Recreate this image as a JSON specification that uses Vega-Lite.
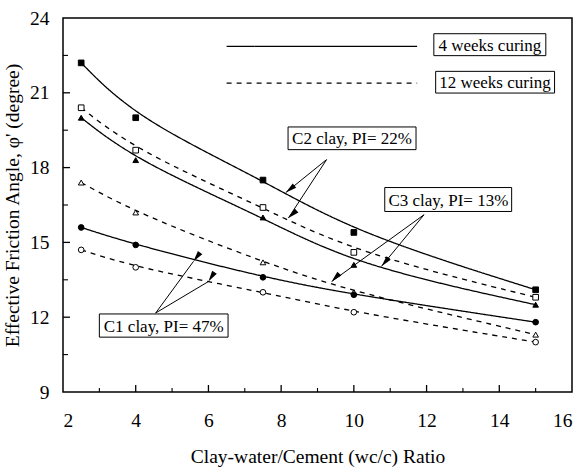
{
  "$schema": "https://vega.github.io/schema/vega-lite/v6.json",
  "width": 509,
  "height": 374,
  "autosize": "none",
  "padding": {"left": 63, "top": 18, "right": 9, "bottom": 76},
  "background": "white",
  "config": {
    "view": {"stroke": "black", "strokeWidth": 1.5},
    "axis": {
      "labelFont": "Liberation Serif", "labelFontSize": 19.5, "labelColor": "black",
      "titleFont": "Liberation Serif", "titleFontSize": 19.5, "titleFontWeight": "normal", "titleColor": "black",
      "domain": false, "ticks": false, "grid": false
    }
  },
  "datasets": {
    "series": [
      {"clay": "C2", "curing": "4 weeks", "x": 2.5, "y": 22.2},
      {"clay": "C2", "curing": "4 weeks", "x": 4, "y": 20.0},
      {"clay": "C2", "curing": "4 weeks", "x": 7.5, "y": 17.5},
      {"clay": "C2", "curing": "4 weeks", "x": 10, "y": 15.4},
      {"clay": "C2", "curing": "4 weeks", "x": 15, "y": 13.1},
      {"clay": "C2", "curing": "12 weeks", "x": 2.5, "y": 20.4},
      {"clay": "C2", "curing": "12 weeks", "x": 4, "y": 18.7},
      {"clay": "C2", "curing": "12 weeks", "x": 7.5, "y": 16.4},
      {"clay": "C2", "curing": "12 weeks", "x": 10, "y": 14.6},
      {"clay": "C2", "curing": "12 weeks", "x": 15, "y": 12.8},
      {"clay": "C3", "curing": "4 weeks", "x": 2.5, "y": 20.0},
      {"clay": "C3", "curing": "4 weeks", "x": 4, "y": 18.3},
      {"clay": "C3", "curing": "4 weeks", "x": 7.5, "y": 16.0},
      {"clay": "C3", "curing": "4 weeks", "x": 10, "y": 14.1},
      {"clay": "C3", "curing": "4 weeks", "x": 15, "y": 12.5},
      {"clay": "C3", "curing": "12 weeks", "x": 2.5, "y": 17.4},
      {"clay": "C3", "curing": "12 weeks", "x": 4, "y": 16.2},
      {"clay": "C3", "curing": "12 weeks", "x": 7.5, "y": 14.2},
      {"clay": "C3", "curing": "12 weeks", "x": 10, "y": 13.0},
      {"clay": "C3", "curing": "12 weeks", "x": 15, "y": 11.3},
      {"clay": "C1", "curing": "4 weeks", "x": 2.5, "y": 15.6},
      {"clay": "C1", "curing": "4 weeks", "x": 4, "y": 14.9},
      {"clay": "C1", "curing": "4 weeks", "x": 7.5, "y": 13.6},
      {"clay": "C1", "curing": "4 weeks", "x": 10, "y": 12.9},
      {"clay": "C1", "curing": "4 weeks", "x": 15, "y": 11.8},
      {"clay": "C1", "curing": "12 weeks", "x": 2.5, "y": 14.7},
      {"clay": "C1", "curing": "12 weeks", "x": 4, "y": 14.0},
      {"clay": "C1", "curing": "12 weeks", "x": 7.5, "y": 13.0},
      {"clay": "C1", "curing": "12 weeks", "x": 10, "y": 12.2},
      {"clay": "C1", "curing": "12 weeks", "x": 15, "y": 11.0}
    ],
    "xMajor": [{"v": 4}, {"v": 6}, {"v": 8}, {"v": 10}, {"v": 12}, {"v": 14}],
    "xMinor": [{"v": 3}, {"v": 5}, {"v": 7}, {"v": 9}, {"v": 11}, {"v": 13}, {"v": 15}],
    "yMajor": [{"v": 12}, {"v": 15}, {"v": 18}, {"v": 21}],
    "yMinor": [{"v": 10.5}, {"v": 13.5}, {"v": 16.5}, {"v": 19.5}, {"v": 22.5}],
    "legendLines": [
      {"curing": "4 weeks", "x": 6.5, "x2": 11.74, "y": 22.86},
      {"curing": "12 weeks", "x": 6.5, "x2": 11.74, "y": 21.39}
    ],
    "boxes": [
      {"label": "4 weeks curing", "x": 12.2, "x2": 15.28, "y": 23.37, "y2": 22.49, "cx": 13.74, "cy": 22.93},
      {"label": "12 weeks curing", "x": 12.25, "x2": 15.52, "y": 21.86, "y2": 20.99, "cx": 13.88, "cy": 21.43},
      {"label": "C2 clay, PI= 22%", "x": 8.19, "x2": 11.71, "y": 19.63, "y2": 18.72, "cx": 9.95, "cy": 19.17},
      {"label": "C3 clay, PI= 13%", "x": 10.85, "x2": 14.34, "y": 17.2, "y2": 16.24, "cx": 12.6, "cy": 16.72},
      {"label": "C1 clay, PI= 47%", "x": 3.0, "x2": 6.54, "y": 12.13, "y2": 11.2, "cx": 4.77, "cy": 11.66}
    ],
    "arrows": [
      {"id": "a1", "x": 9.25, "y": 18.32, "xe": 8.13, "ye": 17.0},
      {"id": "a2", "x": 9.25, "y": 18.32, "xe": 8.2, "ye": 15.98},
      {"id": "a3", "x": 11.93, "y": 16.11, "xe": 9.39, "ye": 13.43},
      {"id": "a4", "x": 11.93, "y": 16.11, "xe": 10.76, "ye": 14.04},
      {"id": "a5", "x": 4.55, "y": 12.17, "xe": 5.59, "ye": 14.24},
      {"id": "a6", "x": 4.55, "y": 12.17, "xe": 6.0, "ye": 13.43}
    ]
  },
  "layer": [
    {
      "data": {"name": "series"},
      "mark": {"type": "line", "interpolate": "basis", "color": "black", "strokeWidth": 1.3},
      "encoding": {
        "x": {"field": "x", "type": "quantitative",
              "scale": {"domain": [2, 16], "nice": false, "zero": false},
              "axis": {"values": [2, 4, 6, 8, 10, 12, 14, 16], "labelPadding": 19, "title": "Clay-water/Cement (wc/c) Ratio", "titlePadding": 18}},
        "y": {"field": "y", "type": "quantitative",
              "scale": {"domain": [9, 24], "nice": false, "zero": false},
              "axis": {"values": [9, 12, 15, 18, 21, 24], "labelPadding": 14, "title": "Effective Friction Angle, φ' (degree)", "titlePadding": 7}},
        "detail": {"field": "clay"},
        "strokeDash": {"field": "curing", "type": "nominal",
                       "scale": {"domain": ["4 weeks", "12 weeks"], "range": [[1, 0], [5, 5]]}, "legend": null}
      }
    },
    {
      "data": {"name": "xMajor"},
      "mark": {"type": "rule", "color": "black", "strokeWidth": 1.3, "y2Offset": -7},
      "encoding": {
        "x": {"field": "v", "type": "quantitative", "axis": null},
        "y": {"datum": 9, "type": "quantitative", "axis": null},
        "y2": {"datum": 9}
      }
    },
    {
      "data": {"name": "xMinor"},
      "mark": {"type": "rule", "color": "black", "strokeWidth": 1.1, "y2Offset": -4},
      "encoding": {
        "x": {"field": "v", "type": "quantitative", "axis": null},
        "y": {"datum": 9, "type": "quantitative", "axis": null},
        "y2": {"datum": 9}
      }
    },
    {
      "data": {"name": "yMajor"},
      "mark": {"type": "rule", "color": "black", "strokeWidth": 1.3, "x2Offset": 7},
      "encoding": {
        "y": {"field": "v", "type": "quantitative", "axis": null},
        "x": {"datum": 2, "type": "quantitative", "axis": null},
        "x2": {"datum": 2}
      }
    },
    {
      "data": {"name": "yMinor"},
      "mark": {"type": "rule", "color": "black", "strokeWidth": 1.1, "x2Offset": 5},
      "encoding": {
        "y": {"field": "v", "type": "quantitative", "axis": null},
        "x": {"datum": 2, "type": "quantitative", "axis": null},
        "x2": {"datum": 2}
      }
    },
    {
      "data": {"name": "series"},
      "mark": {"type": "point", "stroke": "black", "strokeWidth": 1, "opacity": 1, "filled": false},
      "encoding": {
        "x": {"field": "x", "type": "quantitative", "axis": null},
        "y": {"field": "y", "type": "quantitative", "axis": null},
        "shape": {"field": "clay", "type": "nominal",
                  "scale": {"domain": ["C1", "C2", "C3"], "range": ["circle", "square", "triangle-up"]}, "legend": null},
        "fill": {"field": "curing", "type": "nominal",
                 "scale": {"domain": ["4 weeks", "12 weeks"], "range": ["black", "white"]}, "legend": null},
        "size": {"value": 32}
      }
    },
    {
      "data": {"name": "legendLines"},
      "mark": {"type": "rule", "color": "black", "strokeWidth": 1.3},
      "encoding": {
        "x": {"field": "x", "type": "quantitative", "axis": null},
        "x2": {"field": "x2"},
        "y": {"field": "y", "type": "quantitative", "axis": null},
        "strokeDash": {"field": "curing", "type": "nominal",
                       "scale": {"domain": ["4 weeks", "12 weeks"], "range": [[1, 0], [5, 5]]}, "legend": null}
      }
    },
    {
      "data": {"name": "arrows"},
      "mark": {"type": "rule", "color": "black", "strokeWidth": 1},
      "encoding": {
        "x": {"field": "x", "type": "quantitative", "axis": null},
        "y": {"field": "y", "type": "quantitative", "axis": null},
        "x2": {"field": "xe"},
        "y2": {"field": "ye"}
      }
    },
    {
      "data": {"name": "arrows"},
      "mark": {"type": "point", "shape": "M0,0L0.45,1.8L-0.45,1.8Z", "filled": true, "color": "black", "opacity": 1, "size": 150},
      "encoding": {
        "x": {"field": "xe", "type": "quantitative", "axis": null},
        "y": {"field": "ye", "type": "quantitative", "axis": null},
        "angle": {"field": "id", "type": "nominal",
                  "scale": {"domain": ["a1", "a2", "a3", "a4", "a5", "a6"], "range": [231.2, 213.4, 234.1, 219.4, 36.1, 59.0]}, "legend": null}
      }
    },
    {
      "data": {"name": "boxes"},
      "mark": {"type": "rect", "fill": "white", "stroke": "black", "strokeWidth": 1},
      "encoding": {
        "x": {"field": "x", "type": "quantitative", "axis": null},
        "x2": {"field": "x2"},
        "y": {"field": "y", "type": "quantitative", "axis": null},
        "y2": {"field": "y2"}
      }
    },
    {
      "data": {"name": "boxes"},
      "mark": {"type": "text", "font": "Liberation Serif", "fontSize": 17, "color": "black", "align": "center", "baseline": "middle", "dy": 1},
      "encoding": {
        "x": {"field": "cx", "type": "quantitative", "axis": null},
        "y": {"field": "cy", "type": "quantitative", "axis": null},
        "text": {"field": "label"}
      }
    }
  ],
  "resolve": {"axis": {"x": "independent", "y": "independent"}}
}
